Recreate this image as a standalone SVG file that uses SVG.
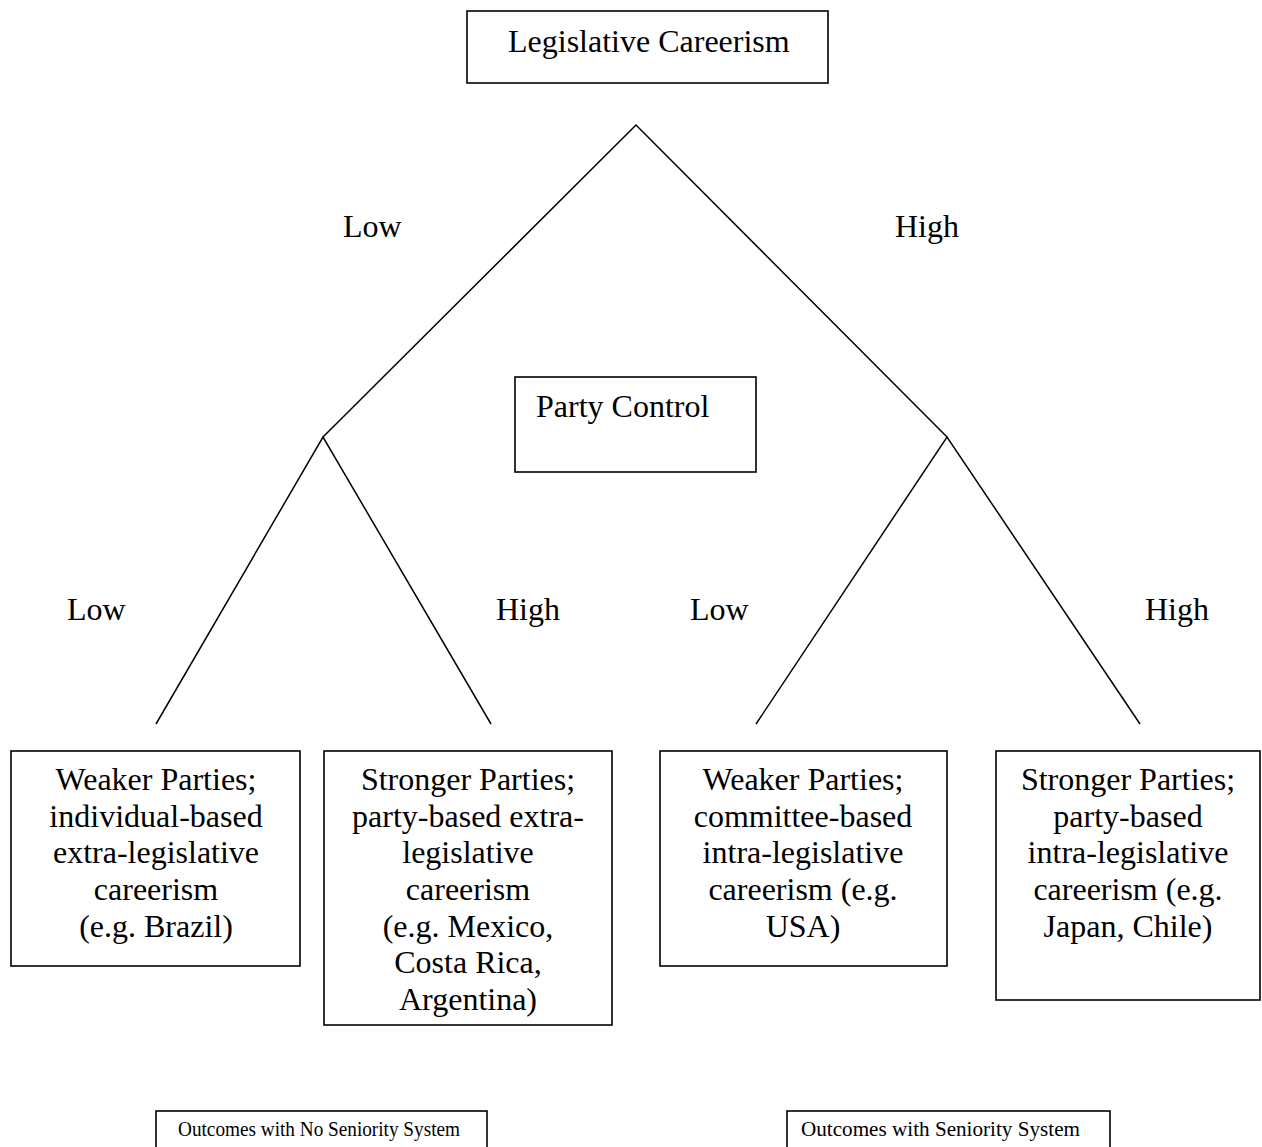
<svg xmlns="http://www.w3.org/2000/svg" width="1262" height="1147" viewBox="0 0 1262 1147">
<style>
.box{fill:#fff;stroke:#000;stroke-width:1.6}
.ln{stroke:#000;stroke-width:1.5;fill:none}
text{font-family:"Liberation Serif","Times New Roman",serif;fill:#000}
.t{font-size:32px}
.c{text-anchor:middle}
.s{font-size:20.5px}
</style>
<rect width="1262" height="1147" fill="#fff"/>
<g id="connectors">
<polyline class="ln" points="323,437 636,125 947,437"/>
<polyline class="ln" points="156,724 323,437 491,724"/>
<polyline class="ln" points="756,724 947,437 1140,724"/>
</g>
<g id="labels">
<text class="t" x="343" y="237">Low</text>
<text class="t" x="895" y="237">High</text>
<text class="t" x="67" y="620">Low</text>
<text class="t" x="496" y="620">High</text>
<text class="t" x="690" y="620">Low</text>
<text class="t" x="1145" y="620">High</text>
</g>
<g id="root">
<rect class="box" x="467" y="11" width="361" height="72"/>
<text class="t" x="508" y="52">Legislative Careerism</text>
</g>
<g id="party-control">
<rect class="box" x="515" y="377" width="241" height="95"/>
<text class="t" x="536" y="417">Party Control</text>
</g>
<g id="outcome-1">
<rect class="box" x="11" y="751" width="289" height="215"/>
<text class="t c" x="156" y="790">Weaker Parties;</text>
<text class="t c" x="156" y="827">individual-based</text>
<text class="t c" x="156" y="863">extra-legislative</text>
<text class="t c" x="156" y="900">careerism</text>
<text class="t c" x="156" y="937">(e.g. Brazil)</text>
</g>
<g id="outcome-2">
<rect class="box" x="324" y="751" width="288" height="274"/>
<text class="t c" x="468" y="790">Stronger Parties;</text>
<text class="t c" x="468" y="827">party-based extra-</text>
<text class="t c" x="468" y="863">legislative</text>
<text class="t c" x="468" y="900">careerism</text>
<text class="t c" x="468" y="937">(e.g. Mexico,</text>
<text class="t c" x="468" y="973">Costa Rica,</text>
<text class="t c" x="468" y="1010">Argentina)</text>
</g>
<g id="outcome-3">
<rect class="box" x="660" y="751" width="287" height="215"/>
<text class="t c" x="803" y="790">Weaker Parties;</text>
<text class="t c" x="803" y="827">committee-based</text>
<text class="t c" x="803" y="863">intra-legislative</text>
<text class="t c" x="803" y="900">careerism (e.g.</text>
<text class="t c" x="803" y="937">USA)</text>
</g>
<g id="outcome-4">
<rect class="box" x="996" y="751" width="264" height="249"/>
<text class="t c" x="1128" y="790">Stronger Parties;</text>
<text class="t c" x="1128" y="827">party-based</text>
<text class="t c" x="1128" y="863">intra-legislative</text>
<text class="t c" x="1128" y="900">careerism (e.g.</text>
<text class="t c" x="1128" y="937">Japan, Chile)</text>
</g>
<g id="no-seniority">
<rect class="box" x="156" y="1111" width="331" height="60"/>
<text class="s" x="178" y="1136" textLength="282" lengthAdjust="spacingAndGlyphs">Outcomes with No Seniority System</text>
</g>
<g id="seniority">
<rect class="box" x="787" y="1111" width="323" height="60"/>
<text class="s" x="801" y="1136" textLength="279" lengthAdjust="spacingAndGlyphs">Outcomes with Seniority System</text>
</g>
</svg>
